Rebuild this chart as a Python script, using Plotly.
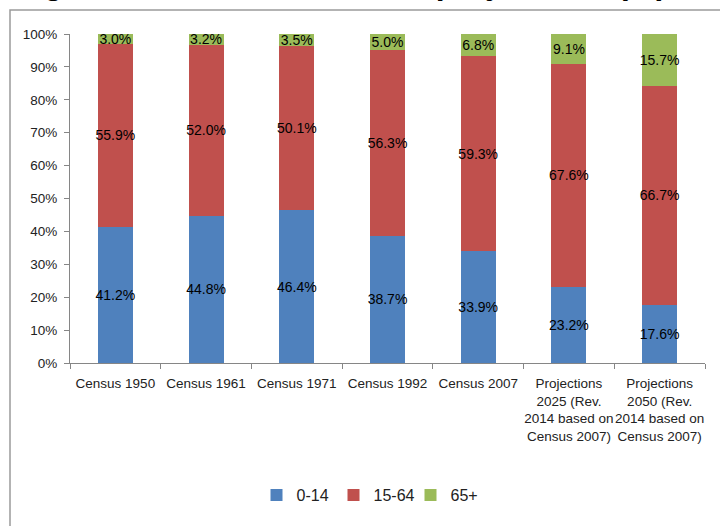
import plotly.graph_objects as go

# Population shares by broad age group, El Salvador censuses and projections
categories = [
    "Census 1950",
    "Census 1961",
    "Census 1971",
    "Census 1992",
    "Census 2007",
    "Projections<br>2025 (Rev.<br>2014 based on<br>Census 2007)",
    "Projections<br>2050 (Rev.<br>2014 based on<br>Census 2007)",
]
age_0_14 = [41.2, 44.8, 46.4, 38.7, 33.9, 23.2, 17.6]
age_15_64 = [55.9, 52.0, 50.1, 56.3, 59.3, 67.6, 66.7]
age_65_plus = [3.0, 3.2, 3.5, 5.0, 6.8, 9.1, 15.7]
y_ticks = list(range(0, 101, 10))

series = [
    ("0-14", age_0_14, "#4F81BD"),
    ("15-64", age_15_64, "#C0504D"),
    ("65+", age_65_plus, "#9BBB59"),
]

FONT = "Liberation Sans, Arial, sans-serif"

fig = go.Figure()
for name, values, color in series:
    fig.add_trace(
        go.Bar(
            name=name,
            x=categories,
            y=values,
            marker=dict(color=color, line=dict(width=0)),
            text=[f"{v:.1f}%" for v in values],
            textposition="inside",
            insidetextanchor="middle",
            textangle=0,
            constraintext="none",
            textfont=dict(family=FONT, size=14, color="#000000"),
            hoverinfo="skip",
        )
    )

W, H = 720, 526
ml, mr, mt, mb = 70, 15, 34, 163
pw, ph = W - ml - mr, H - mt - mb


def px_x(x):
    return (x - ml) / pw


def px_y(y):
    return (H - mb - y) / ph


fig.update_layout(
    width=W,
    height=H,
    margin=dict(l=ml, r=mr, t=mt, b=mb, pad=0),
    paper_bgcolor="white",
    plot_bgcolor="white",
    barmode="stack",
    bargap=0.614,
    font=dict(family=FONT, size=13.5, color="#222222"),
    showlegend=True,
    legend=dict(
        orientation="h",
        x=px_x(372),
        xanchor="center",
        y=px_y(495),
        yanchor="middle",
        font=dict(family=FONT, size=16, color="#222222"),
        bgcolor="rgba(0,0,0,0)",
        traceorder="normal",
        entrywidth=32,
    ),
    xaxis=dict(
        type="category",
        showline=True,
        linecolor="#868686",
        linewidth=1,
        ticks="outside",
        tickson="boundaries",
        ticklen=5,
        tickcolor="#868686",
        showgrid=False,
        tickfont=dict(family=FONT, size=13.5, color="#222222"),
        tickangle=0,
        ticklabelstandoff=8,
        fixedrange=True,
    ),
    yaxis=dict(
        range=[0, 100],
        tickvals=y_ticks,
        ticktext=[f"{v}%" for v in y_ticks],
        showline=True,
        linecolor="#868686",
        linewidth=1,
        ticks="outside",
        ticklen=5,
        tickcolor="#868686",
        showgrid=False,
        zeroline=False,
        tickfont=dict(family=FONT, size=13.5, color="#222222"),
        ticklabelstandoff=4,
        fixedrange=True,
    ),
    shapes=[
        dict(
            type="rect",
            xref="paper",
            yref="paper",
            x0=px_x(10),
            x1=px_x(740),
            y0=px_y(560),
            y1=px_y(10),
            line=dict(color="#9a9a9a", width=1.5),
            fillcolor="rgba(0,0,0,0)",
            layer="below",
        )
    ],
    annotations=[
        dict(
            text="<b>Figure 2: Total, census and projections (%)</b>",
            xref="paper",
            yref="paper",
            x=px_x(14),
            y=px_y(2.5),
            xanchor="left",
            yanchor="bottom",
            showarrow=False,
            borderpad=0,
            font=dict(family=FONT, size=32, color="#000000"),
        )
    ],
)

fig.write_html("out.html")
